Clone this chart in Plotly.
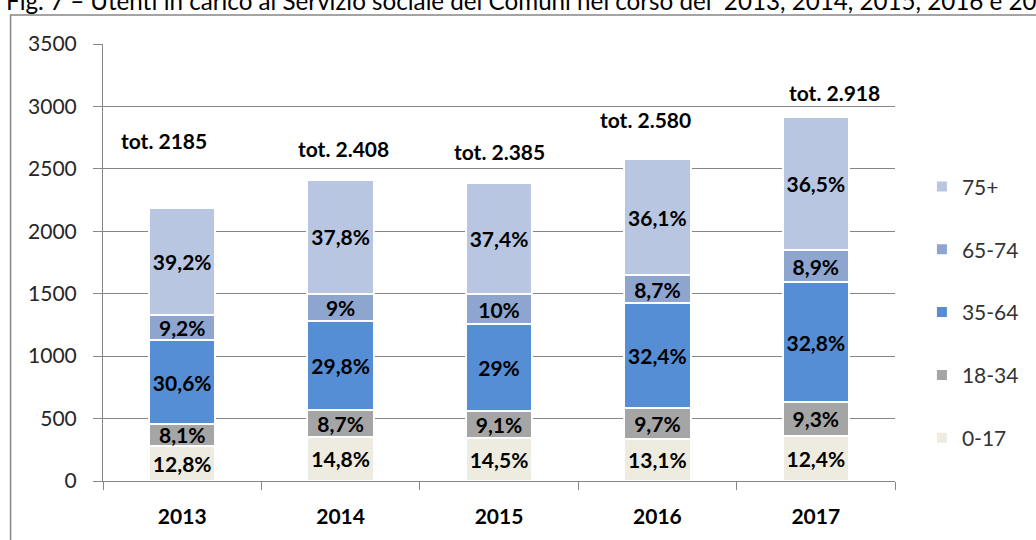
import plotly.graph_objects as go

years = ["2013", "2014", "2015", "2016", "2017"]
groups = ["0-17", "18-34", "35-64", "65-74", "75+"]
totals_label = ["tot. 2185", "tot. 2.408", "tot. 2.385", "tot. 2.580", "tot. 2.918"]

v_0_17 = [280, 356, 346, 338, 362]
v_18_34 = [177, 209, 217, 250, 271]
v_35_64 = [669, 718, 692, 836, 957]
v_65_74 = [201, 217, 239, 224, 260]
v_75 = [858, 910, 892, 931, 1065]

p_0_17 = ["12,8%", "14,8%", "14,5%", "13,1%", "12,4%"]
p_18_34 = ["8,1%", "8,7%", "9,1%", "9,7%", "9,3%"]
p_35_64 = ["30,6%", "29,8%", "29%", "32,4%", "32,8%"]
p_65_74 = ["9,2%", "9%", "10%", "8,7%", "8,9%"]
p_75 = ["39,2%", "37,8%", "37,4%", "36,1%", "36,5%"]

values = [v_0_17, v_18_34, v_35_64, v_65_74, v_75]
pcts = [p_0_17, p_18_34, p_35_64, p_65_74, p_75]
colors = ["#EEECE1", "#A5A5A5", "#558ED5", "#8EA5D0", "#B9C6E1"]

# placement of the "tot." text boxes (style, not data)
tot_y = [2725, 2661, 2637, 2893, 3108]
tot_xshift = [-18, 3, 0, -12, 19]

FONT = "Lato"

fig = go.Figure()
for i, (g, v, p, c) in enumerate(zip(groups, values, pcts, colors)):
    fig.add_trace(go.Bar(
        x=years, y=v, name=g, text=p,
        marker=dict(color=c, line=dict(color="white", width=2)),
        width=0.42,
        textposition="inside", insidetextanchor="middle", textangle=0,
        constraintext="none",
        textfont=dict(family=FONT, size=21, color="black", weight="bold"),
        legendgroup=g, legendrank=100 - i,
        hoverinfo="skip",
    ))

for i, (lab, ty, xs) in enumerate(zip(totals_label, tot_y, tot_xshift)):
    fig.add_annotation(x=i, y=ty, text=lab, showarrow=False, xshift=xs,
                       font=dict(family=FONT, size=21, color="black", weight="bold"))

fig.add_annotation(xref="paper", yref="paper", x=-100/797, y=1 + (44 - 9) / 438,
                   xanchor="left", yanchor="bottom", yshift=-8, showarrow=False,
                   text="Fig. 7 – Utenti in carico al Servizio sociale dei Comuni nel corso del  2013, 2014, 2015, 2016 e 2017",
                   font=dict(family=FONT, size=24.2, color="black"))

# chart frame
fig.add_shape(type="rect", xref="paper", yref="paper",
              x0=-93/797, x1=1.3, y0=-0.3, y1=1 + (44 - 15) / 438,
              line=dict(color="#868686", width=1.5), fillcolor="rgba(0,0,0,0)", layer="below")

fig.update_layout(
    width=1036, height=540,
    margin=dict(l=103, r=136, t=44, b=58),
    barmode="stack",
    plot_bgcolor="white", paper_bgcolor="white",
    font=dict(family=FONT, color="#262626"),
    showlegend=True,
    legend=dict(x=1.034, y=0.72, xanchor="left", yanchor="top",
                traceorder="grouped", tracegroupgap=32.5,
                font=dict(family=FONT, size=21, color="#333333"),
                bgcolor="rgba(0,0,0,0)"),
    xaxis=dict(type="category", range=[-0.5, 4.5], showline=True, linecolor="#868686", linewidth=1,
               ticks="outside", tickson="boundaries", ticklen=8, tickcolor="#868686",
               tickfont=dict(family=FONT, size=21, color="black", weight="bold"),
               ticklabelstandoff=17),
    yaxis=dict(range=[0, 3500], dtick=500, showline=True, linecolor="#868686", linewidth=1,
               showgrid=True, gridcolor="#868686", gridwidth=1,
               ticks="outside", ticklen=9, tickcolor="#868686",
               tickfont=dict(family=FONT, size=21, color="#262626"),
               ticklabelstandoff=12, zeroline=False),
)

post = ("document.body.style.margin='0px';"
        "var gd=document.getElementById('{plot_id}');"
        "Plotly.relayout(gd,{width:1036,height:540});")
fig.write_html("out.html", post_script=post, config={"displayModeBar": False})
